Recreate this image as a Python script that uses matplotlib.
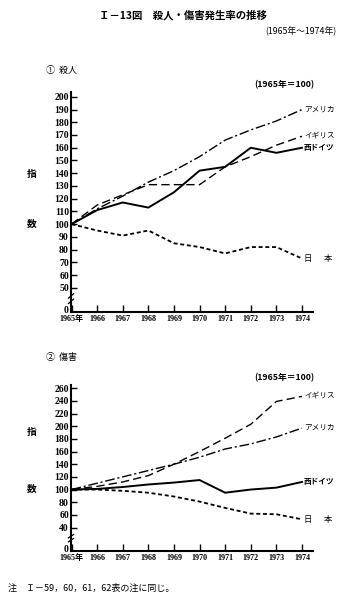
import numpy as np
import matplotlib.pyplot as plt

plt.rcParams['font.family'] = ['Noto Sans CJK JP', 'DejaVu Sans']

years = [1965, 1966, 1967, 1968, 1969, 1970, 1971, 1972, 1973, 1974]
year_labels = ['1965年'] + [str(y) for y in years[1:]]

# ① 殺人 (1965 = 100)
murder_usa = [100, 112, 122, 133, 142, 153, 166, 174, 181, 190]
murder_uk = [100, 115, 123, 131, 131, 131, 145, 153, 162, 169]
murder_wg = [100, 111, 117, 113, 125, 142, 145, 160, 156, 160]
murder_jp = [100, 95, 91, 95, 85, 82, 77, 82, 82, 73]

# ② 傷害 (1965 = 100)
injury_uk = [100, 105, 112, 122, 140, 160, 181, 203, 239, 247]
injury_usa = [100, 110, 120, 130, 140, 151, 164, 172, 183, 197]
injury_wg = [100, 101, 104, 108, 111, 115, 95, 100, 103, 112]
injury_jp = [100, 100, 98, 95, 89, 81, 71, 62, 61, 53]

top_yticks = list(range(50, 201, 10))
bot_yticks = list(range(40, 261, 20))

num_font = dict(family='Liberation Serif', weight='bold')

fig = plt.figure(figsize=(3.47, 6.0), dpi=100)


def fx(px):
    return px / 347


def fy(py):
    return 1 - py / 600


styles = {
    'usa': dict(color='black', lw=1.0, dashes=(7, 2, 1.5, 2)),
    'uk': dict(color='black', lw=1.0, dashes=(6, 3)),
    'wg': dict(color='black', lw=1.4),
    'jp': dict(color='black', lw=1.3, dashes=(2.2, 1.5)),
}


def panel(rect, ylim, yticks, zero_pos, series, labels):
    ax = fig.add_axes(rect)
    for key, vals in series.items():
        ax.plot(years, vals, **styles[key])
    ax.set_xlim(1964.98, 1974.43)
    ax.set_ylim(*ylim)
    ax.spines['top'].set_visible(False)
    ax.spines['right'].set_visible(False)
    ax.spines['left'].set_linewidth(1.5)
    ax.spines['bottom'].set_linewidth(1.5)
    ax.set_yticks(yticks + [zero_pos])
    ax.set_yticklabels([str(v) for v in yticks] + ['0'], fontsize=7, **num_font)
    ax.set_xticks(years)
    ax.set_xticklabels(year_labels, fontsize=5.8, **num_font)
    for t in ax.get_xticklabels()[:1]:
        t.set_family(['Liberation Serif', 'Noto Sans CJK JP'])
    ax.tick_params(axis='y', direction='in', length=4, width=1.0, pad=1.5)
    ax.tick_params(axis='x', direction='in', length=5, width=1.0, pad=2)
    # hide tick mark of the '0' label
    ax.yaxis.get_major_ticks()[-1].tick1line.set_visible(False)
    # axis break marks
    yb = (zero_pos + yticks[0]) / 2
    span = ylim[1] - ylim[0]
    for off in (-0.012, 0.012):
        ax.plot([1964.88, 1965.08], [yb + off * span - 0.01 * span, yb + off * span + 0.01 * span],
                color='black', lw=0.9, clip_on=False)
    for key, text in labels.items():
        v = series[key][-1]
        if key == 'jp':
            ax.text(1974.05, v, '日', fontsize=6, va='center', ha='left', clip_on=False)
            ax.text(1974.85, v, '本', fontsize=6, va='center', ha='left', clip_on=False)
        else:
            ax.text(1974.08, v, text, fontsize=5.5, va='center', ha='left',
                    weight='bold' if key == 'wg' else 'normal', clip_on=False)
    return ax


labels = {'usa': 'アメリカ', 'uk': 'イギリス', 'wg': '西ドイツ', 'jp': '日本'}

ax1 = panel([fx(71), fy(312), fx(313) - fx(71), fy(91.7) - fy(312)], (31, 204),
            top_yticks, 33,
            {'usa': murder_usa, 'uk': murder_uk, 'wg': murder_wg, 'jp': murder_jp}, labels)
ax2 = panel([fx(71), fy(551), fx(313) - fx(71), fy(385) - fy(551)], (3, 265),
            bot_yticks, 6.5,
            {'uk': injury_uk, 'usa': injury_usa, 'wg': injury_wg, 'jp': injury_jp}, labels)

# titles and notes
fig.text(fx(183), fy(15), 'Ｉ－13図　殺人・傷害発生率の推移', fontsize=7.5, weight='bold',
         ha='center', va='center')
fig.text(fx(336), fy(31), '(1965年～1974年)', fontsize=6.3, ha='right', va='center')
fig.text(fx(46), fy(70), '①  殺人', fontsize=6.5, ha='left', va='center')
fig.text(fx(46), fy(357), '②  傷害', fontsize=6.5, ha='left', va='center')
fig.text(fx(284), fy(85), '(1965年＝100)', fontsize=6.3, weight='bold', ha='center', va='center')
fig.text(fx(284), fy(378), '(1965年＝100)', fontsize=6.3, weight='bold', ha='center', va='center')
for yy, ch in [(174, '指'), (224, '数'), (432, '指'), (489, '数')]:
    fig.text(fx(32), fy(yy), ch, fontsize=7, weight='bold', ha='center', va='center')
fig.text(fx(8), fy(588), '注　Ｉ－59，60，61，62表の注に同じ。', fontsize=6.5, ha='left', va='center')

fig.savefig('out.png', dpi=100)
